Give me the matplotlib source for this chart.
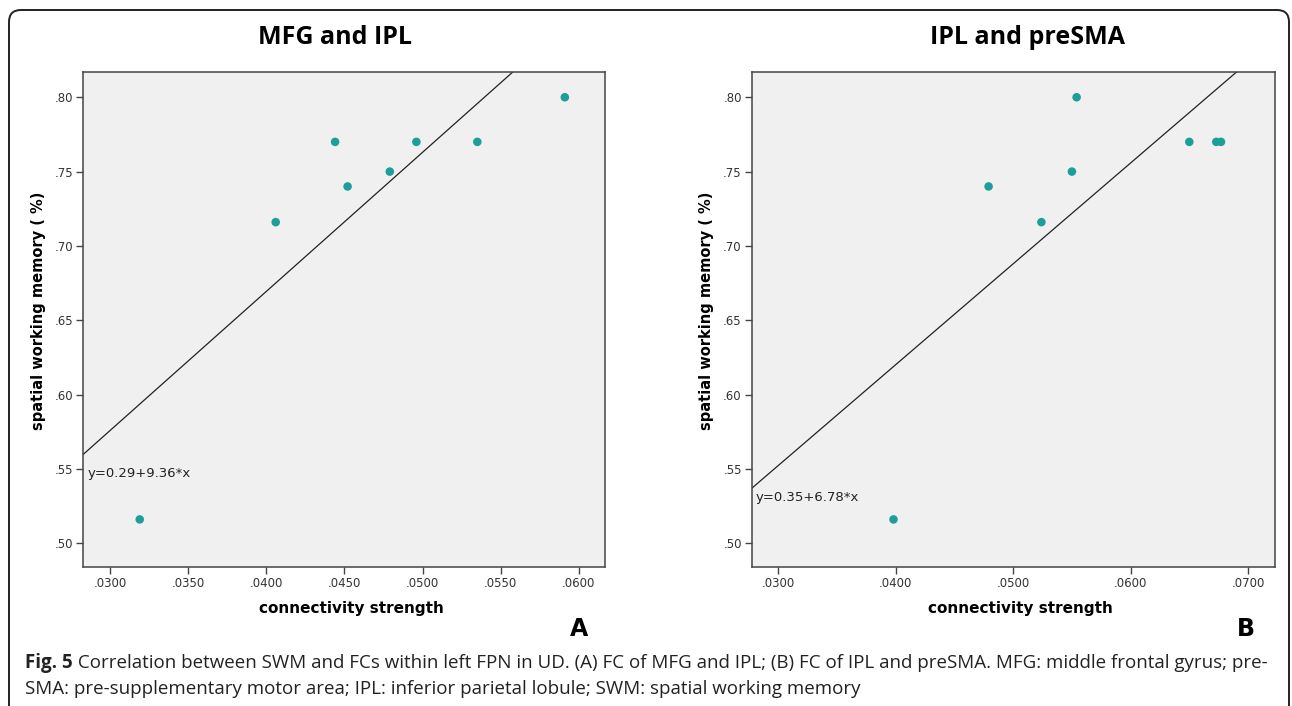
import matplotlib
matplotlib.use("Agg")
import matplotlib.pyplot as plt
from matplotlib.patches import FancyBboxPatch
from matplotlib.transforms import IdentityTransform

# === DATA ===
titles = ["MFG and IPL", "IPL and preSMA"]
panel_letters = ["A", "B"]

mfg_ipl_x = [0.0319, 0.0406, 0.0444, 0.0452, 0.0479, 0.0496, 0.0535, 0.0591]
mfg_ipl_y = [0.516, 0.716, 0.770, 0.740, 0.750, 0.770, 0.770, 0.800]

ipl_presma_x = [0.0398, 0.0479, 0.0524, 0.0550, 0.0554, 0.0650, 0.0673, 0.0677]
ipl_presma_y = [0.516, 0.740, 0.716, 0.750, 0.800, 0.770, 0.770, 0.770]

fit_intercepts = [0.295, 0.349]
fit_slopes = [9.36, 6.78]
fit_labels = ["y=0.29+9.36*x", "y=0.35+6.78*x"]

xlims = [(0.02827, 0.06167), (0.0277, 0.07226)]
ylim = (0.484, 0.817)
xticks = [[0.030, 0.035, 0.040, 0.045, 0.050, 0.055, 0.060],
          [0.030, 0.040, 0.050, 0.060, 0.070]]
yticks = [0.50, 0.55, 0.60, 0.65, 0.70, 0.75, 0.80]

caption_bold = "Fig. 5"
caption_line1 = (" Correlation between SWM and FCs within left FPN in UD. (A) FC of MFG and IPL; "
                 "(B) FC of IPL and preSMA. MFG: middle frontal gyrus; pre-")
caption_line2 = "SMA: pre-supplementary motor area; IPL: inferior parietal lobule; SWM: spatial working memory"

# === LAYOUT (pixels) ===
W, H = 1292, 706
DPI = 100
POINT_COLOR = "#1c9f99"

fig = plt.figure(figsize=(W / DPI, H / DPI), dpi=DPI)
fig.patch.set_facecolor("white")


def px_rect(x0, x1, ytop, ybot):
    return [x0 / W, 1 - ybot / H, (x1 - x0) / W, (ybot - ytop) / H]


axes_px = [(83, 605, 72, 567), (751.5, 1274.5, 72, 567)]
title_x = [335, 1028]
ylabel_x = [39, 707]
xlabel_x = [351, 1020]
letter_x = [579, 1246]
eq_pos = [(88, 473), (756, 497)]

xs_all = [mfg_ipl_x, ipl_presma_x]
ys_all = [mfg_ipl_y, ipl_presma_y]

for i in range(2):
    ax = fig.add_axes(px_rect(*axes_px[i]))
    ax.set_facecolor("#f0f0f0")
    ax.scatter(xs_all[i], ys_all[i], s=38, color=POINT_COLOR, edgecolors="none", zorder=3)

    x0, x1 = xlims[i]
    ax.plot([x0, x1], [fit_intercepts[i] + fit_slopes[i] * x0,
                       fit_intercepts[i] + fit_slopes[i] * x1],
            color="#222222", lw=0.9, zorder=2)

    ax.set_xlim(*xlims[i])
    ax.set_ylim(*ylim)
    ax.set_xticks(xticks[i])
    ax.set_xticklabels(["." + f"{v:.4f}".split(".")[1] for v in xticks[i]])
    ax.set_yticks(yticks)
    ax.set_yticklabels(["." + f"{v:.2f}".split(".")[1] for v in yticks])
    ax.tick_params(direction="out", length=5, width=1, color="#444444",
                   labelsize=8.5, labelcolor="#333333", pad=2)
    for sp in ax.spines.values():
        sp.set_color("#444444")
        sp.set_linewidth(1.1)

    ex, ey = eq_pos[i]
    fig.text(ex / W, 1 - ey / H, fit_labels[i], fontsize=9.5, color="#222222",
             ha="left", va="center")

    fig.text(title_x[i] / W, 1 - 38 / H, titles[i], family="Open Sans",
             fontweight="bold", fontsize=18, ha="center", va="center")
    fig.text(ylabel_x[i] / W, 1 - 311 / H, "spatial working memory ( %)",
             fontweight="bold", fontsize=10.5, rotation=90, ha="center", va="center")
    fig.text(xlabel_x[i] / W, 1 - 608 / H, "connectivity strength",
             fontweight="bold", fontsize=11, ha="center", va="center")
    fig.text(letter_x[i] / W, 1 - 629 / H, panel_letters[i],
             fontweight="bold", fontsize=17, ha="center", va="center")

# caption
cap_kw = dict(family="Open Sans", fontsize=13.5, color="#222222", va="baseline")
t_bold = fig.text(25 / W, 1 - 668 / H, caption_bold, fontweight="bold", **cap_kw)
fig.canvas.draw()
bb = t_bold.get_window_extent(renderer=fig.canvas.get_renderer())
fig.text(bb.x1 / W, 1 - 668 / H, caption_line1, **cap_kw)
fig.text(25 / W, 1 - 694 / H, caption_line2, **cap_kw)

# rounded frame around the figure panel
frame = FancyBboxPatch((9, -30), 1280, H - 10 + 30,
                       boxstyle="round,pad=0,rounding_size=12",
                       transform=IdentityTransform(), facecolor="none",
                       edgecolor="#222222", linewidth=1.4)
fig.patches.append(frame)

fig.savefig("out.png", dpi=DPI)
